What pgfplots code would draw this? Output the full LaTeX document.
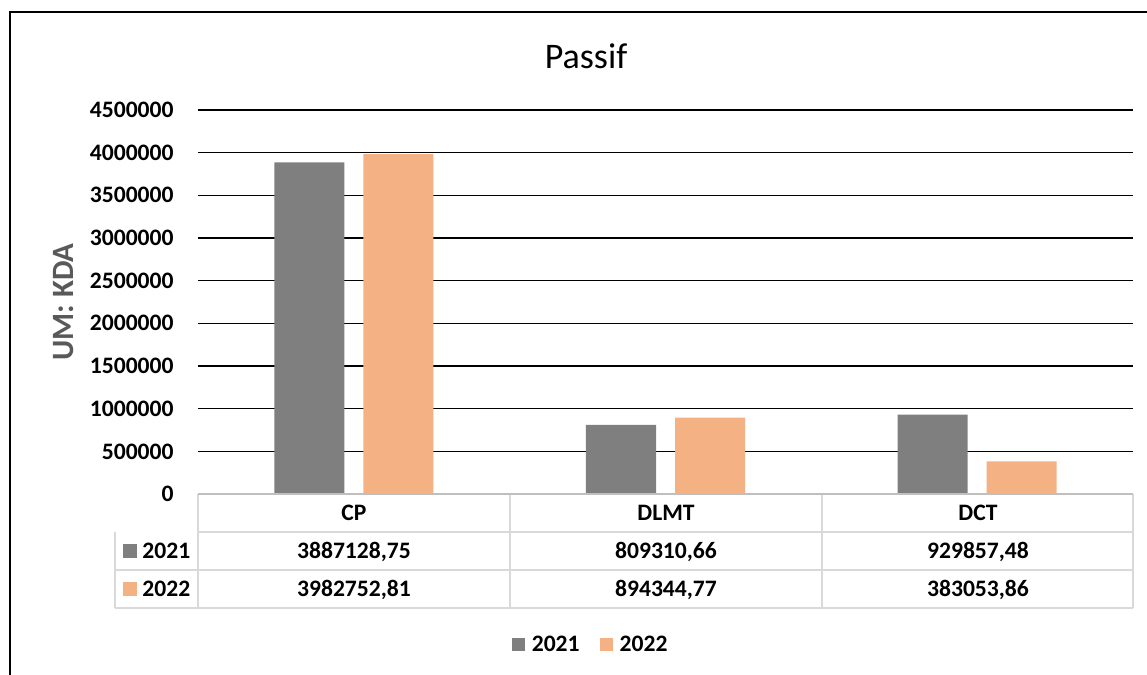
\documentclass[border=0pt]{standalone}
\usepackage{fontspec}
\setmainfont{Carlito}
\usepackage{pgfplots}
\pgfplotsset{compat=1.18}
\definecolor{bgray}{HTML}{7F7F7F}
\definecolor{borange}{HTML}{F4B183}
\definecolor{tline}{HTML}{D9D9D9}
\definecolor{axline}{HTML}{BFBFBF}
\definecolor{ylab}{HTML}{595959}
\newcommand{\tf}{\bfseries\fontsize{11.8}{14}\selectfont}
\begin{document}
\begin{tikzpicture}
\begin{scope}[x=0.5pt,y=-0.5pt]
\useasboundingbox (0,0) rectangle (1147,675);
\draw[line width=1pt, black] (9.5,680) -- (9.5,11.5) -- (1150,11.5);
\node[anchor=base, font=\fontsize{18}{21}\selectfont] at (586,68) {Passif};
\node[rotate=90, anchor=center, text=ylab, font=\bfseries\fontsize{15.5}{18}\selectfont] at (64,302) {UM: KDA};
\end{scope}
\begin{axis}[
  at={(99pt,-247pt)}, anchor=south west,
  scale only axis, width=467.5pt, height=192pt,
  xmin=-0.5, xmax=2.5, ymin=0, ymax=4500000,
  enlargelimits=false,
  ybar=9.5pt, bar width=35pt,
  axis line style={draw=none},
  xtick=\empty,
  ytick={0,500000,1000000,1500000,2000000,2500000,3000000,3500000,4000000,4500000},
  scaled y ticks=false,
  yticklabel style={font=\tf, /pgf/number format/fixed, /pgf/number format/1000 sep={}, /pgf/number format/assume math mode=true, anchor=east, inner sep=0pt, xshift=-12pt},
  major tick length=0pt,
  ymajorgrids, grid style={black, line width=0.75pt},
  every axis plot post/.append style={/pgfplots/legend image code/.code={\fill[#1] (0pt,-3.25pt) rectangle (6.5pt,3.25pt);}},
  legend style={at={(0.421,-0.393)}, anchor=center, draw=none, fill=none, font=\tf, inner sep=0pt,
    /tikz/every odd column/.append style={column sep=1.5pt},
    /tikz/every even column/.append style={column sep=8pt}},
  legend columns=2,
]
\addplot[fill=bgray, draw=none] coordinates {(0,3887128.75) (1,809310.66) (2,929857.48)};
\addplot[fill=borange, draw=none] coordinates {(0,3982752.81) (1,894344.77) (2,383053.86)};
\legend{2021,2022}
\end{axis}
\begin{scope}[x=0.5pt,y=-0.5pt]
\draw[tline, line width=0.75pt] (198,532) -- (1133,532);
\draw[tline, line width=0.75pt] (115,570) -- (1133,570);
\draw[tline, line width=0.75pt] (115,608) -- (1133,608);
\draw[tline, line width=0.75pt] (115,532) -- (115,608);
\foreach \xx in {198,510,822,1133} {\draw[tline, line width=0.75pt] (\xx,494) -- (\xx,608);}
\draw[axline, line width=0.75pt] (198,494) -- (1133,494);
\foreach \xx/\t in {354/CP,666/DLMT,978/DCT} {\node[anchor=base, font=\tf, inner sep=0pt] at (\xx,520.5) {\t};}
\foreach \xx/\t in {354/{3887128,75},666/{809310,66},978/{929857,48}} {\node[anchor=base, font=\tf, inner sep=0pt] at (\xx,558.5) {\t};}
\foreach \xx/\t in {354/{3982752,81},666/{894344,77},978/{383053,86}} {\node[anchor=base, font=\tf, inner sep=0pt] at (\xx,596.5) {\t};}
\fill[bgray] (123,544) rectangle (137,558);
\fill[borange] (123,582) rectangle (137,596);
\node[anchor=base west, font=\tf, inner sep=0pt] at (142,558.5) {2021};
\node[anchor=base west, font=\tf, inner sep=0pt] at (142,596.5) {2022};
\end{scope}
\end{tikzpicture}
\end{document}
